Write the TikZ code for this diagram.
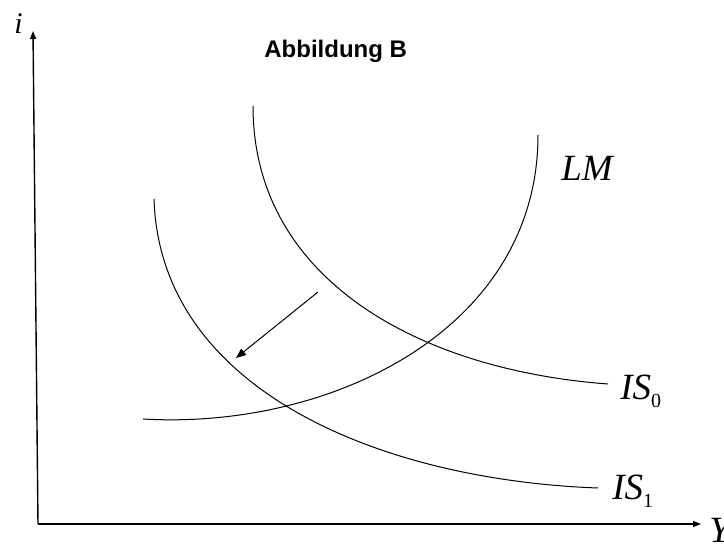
\documentclass[tikz,border=0pt]{standalone}
\usepackage{fontspec}
\setmainfont{Liberation Serif}
\newfontfamily\headfont{Liberation Sans}
\usepackage{tikz}
\usetikzlibrary{arrows.meta}
\tikzset{
  curve/.style={line width=0.5pt},
  axis/.style={line width=0.7pt,-{Triangle[length=4pt,width=3pt]}},
  lbl/.style={inner sep=0pt,anchor=base west,font=\fontsize{18.5}{20}\selectfont\itshape}
}
\newcommand{\sub}[1]{\raisebox{-4pt}{\upshape\fontsize{10}{10}\selectfont #1}}

\begin{document}
\begin{tikzpicture}[x=0.5pt,y=-0.5pt]
\useasboundingbox (0,0) rectangle (724,545);
% axes
\coordinate (o) at (38,524);
\coordinate (itop) at (33,31);
\coordinate (yend) at (701,524);
\draw[axis] (o) -- (itop);
\draw[axis] (o) -- (yend);
\node[lbl,font=\fontsize{15}{16}\selectfont\itshape] (ilab) at (14,34) {i};
\node[lbl] (ylab) at (709,543) {Y};
\node[inner sep=0pt,anchor=base west,font=\headfont\bfseries\fontsize{12}{13}\selectfont] (title) at (264,58) {Abbildung B};
% curves
\coordinate (is0a) at (253,106);
\coordinate (is0b) at (608,384);
\coordinate (is1a) at (154,199);
\coordinate (is1b) at (598,488);
\coordinate (lma) at (143,419);
\coordinate (lmb) at (538,135);
\draw[curve] (is0a) .. controls (253,280) and (420,370) .. (is0b);
\draw[curve] (is1a) .. controls (160,390) and (380,480) .. (is1b);
\draw[curve] (lma) .. controls (330,430) and (538,330) .. (lmb);
\node[lbl] (lmlab) at (561,181) {LM};
\node[lbl] (is0lab) at (620,400) {IS\sub{0}};
\node[lbl] (is1lab) at (612,500) {IS\sub{1}};
% shift
\coordinate (sa) at (318,292);
\coordinate (sb) at (236,358);
\draw[line width=0.5pt,-{Triangle[length=5pt,width=4pt]}] (sa) -- (sb);
\end{tikzpicture}
\end{document}
